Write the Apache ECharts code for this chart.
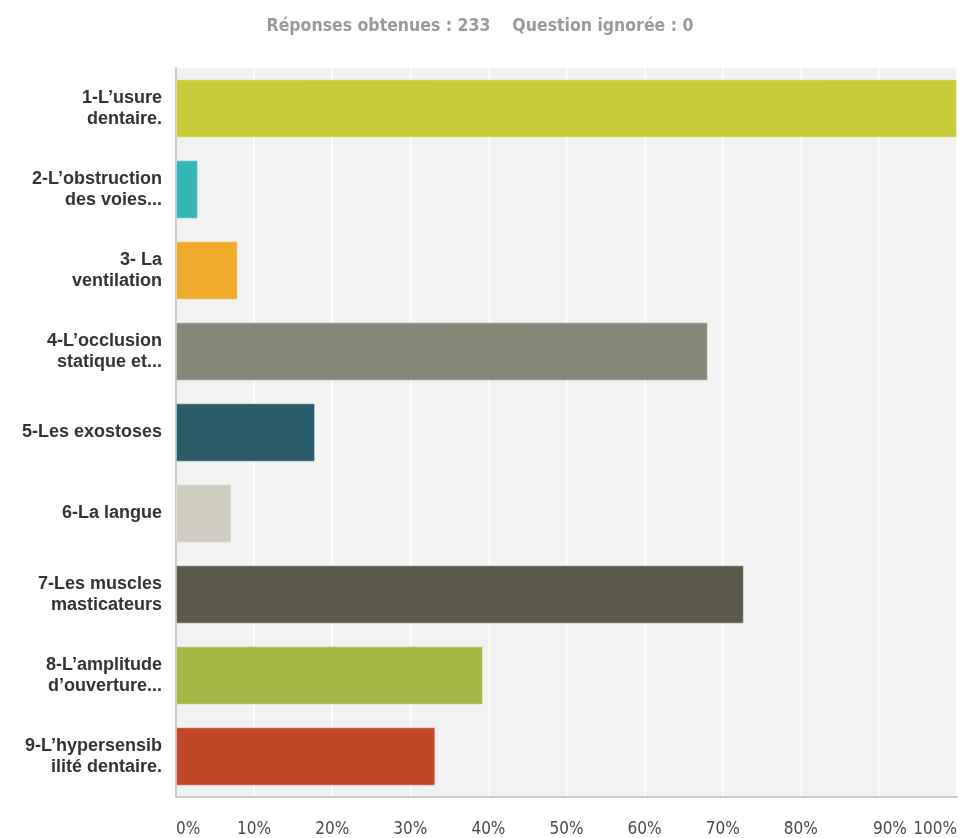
<!DOCTYPE html>
<html>
<head>
<meta charset="utf-8">
<script src="https://cdn.jsdelivr.net/npm/echarts@6/dist/echarts.min.js"></script>
<style>
  html, body { margin: 0; padding: 0; background: #ffffff; overflow: hidden; }
  #chart { width: 960px; height: 838px; }
</style>
</head>
<body>
<div id="chart"></div>
<script>
// Answer choices (display labels, wrapped over two lines)
const categories = [
  '1-L\u2019usure\ndentaire.',
  '2-L\u2019obstruction\ndes voies...',
  '3- La\nventilation',
  '4-L\u2019occlusion\nstatique et...',
  '5-Les exostoses',
  '6-La langue',
  '7-Les muscles\nmasticateurs',
  '8-L\u2019amplitude\nd\u2019ouverture...',
  '9-L\u2019hypersensib\nilit\u00e9 dentaire.'
];

// Share of respondents per choice, in percent
const percentValues = [100, 2.8, 7.9, 68.1, 17.8, 7.1, 72.7, 39.3, 33.2];

// One colour per choice
const barColors = ['#c7cc38', '#35b6b9', '#efab2c', '#878978', '#2b5c69', '#cfcdbf', '#5c5a4b', '#a3b745', '#c14728'];

// Horizontal axis ticks
const tickValues = [0, 10, 20, 30, 40, 50, 60, 70, 80, 90, 100];
const tickLabels = ['0%', '10%', '20%', '30%', '40%', '50%', '60%', '70%', '80%', '90%', '100%'];

const headerText = 'R\u00e9ponses obtenues : 233    Question ignor\u00e9e : 0';

const chart = echarts.init(document.getElementById('chart'), null, { renderer: 'canvas', width: 960, height: 838 });

const narrowFont = '"DejaVu Sans Condensed", "Liberation Sans Narrow", "Liberation Sans", Arial, sans-serif';

chart.setOption({
  animation: false,
  backgroundColor: '#ffffff',
  title: {
    text: headerText,
    left: 'center',
    top: 12,
    textStyle: {
      color: '#9a9a9a',
      fontFamily: narrowFont,
      fontWeight: 'bold',
      fontSize: 17.5
    }
  },
  grid: {
    left: 176,
    right: 0,
    top: 68,
    bottom: 35,
    show: true,
    backgroundColor: '#f1f2f2',
    borderWidth: 0,
    containLabel: false
  },
  xAxis: {
    type: 'value',
    min: 0,
    max: 100,
    interval: 10,
    axisLine: { show: true, lineStyle: { color: '#c9cbcb', width: 2 } },
    axisTick: { show: false },
    splitLine: { show: true, lineStyle: { color: '#ffffff', width: 1.5 } },
    axisLabel: {
      margin: 24,
      color: '#4a4a4a',
      fontFamily: narrowFont,
      fontSize: 17,
      alignMinLabel: 'left',
      alignMaxLabel: 'right',
      formatter: function (v) {
        const i = tickValues.indexOf(v);
        const t = i >= 0 ? tickLabels[i] : v + '%';
        return v === 90 ? '{shift|' + t + '}' : t;
      },
      rich: {
        shift: {
          color: '#4a4a4a',
          fontFamily: narrowFont,
          fontSize: 17,
          padding: [0, 0, 0, 22]
        }
      }
    }
  },
  yAxis: {
    type: 'category',
    data: categories,
    inverse: true,
    axisLine: { show: true, lineStyle: { color: '#c9cbcb', width: 2 } },
    axisTick: { show: false },
    splitLine: { show: false },
    axisLabel: {
      margin: 14,
      color: '#333333',
      fontFamily: '"Liberation Sans", Arial, sans-serif',
      fontWeight: 'bold',
      fontSize: 18,
      lineHeight: 21,
      align: 'right'
    }
  },
  series: [{
    type: 'bar',
    data: percentValues.map((v, i) => ({
      value: v,
      itemStyle: { color: barColors[i] }
    })),
    barCategoryGap: '28%',
    itemStyle: {
      borderColor: 'rgba(255,255,255,0.35)',
      borderWidth: 1
    },
    label: { show: false }
  }]
});
</script>
</body>
</html>
